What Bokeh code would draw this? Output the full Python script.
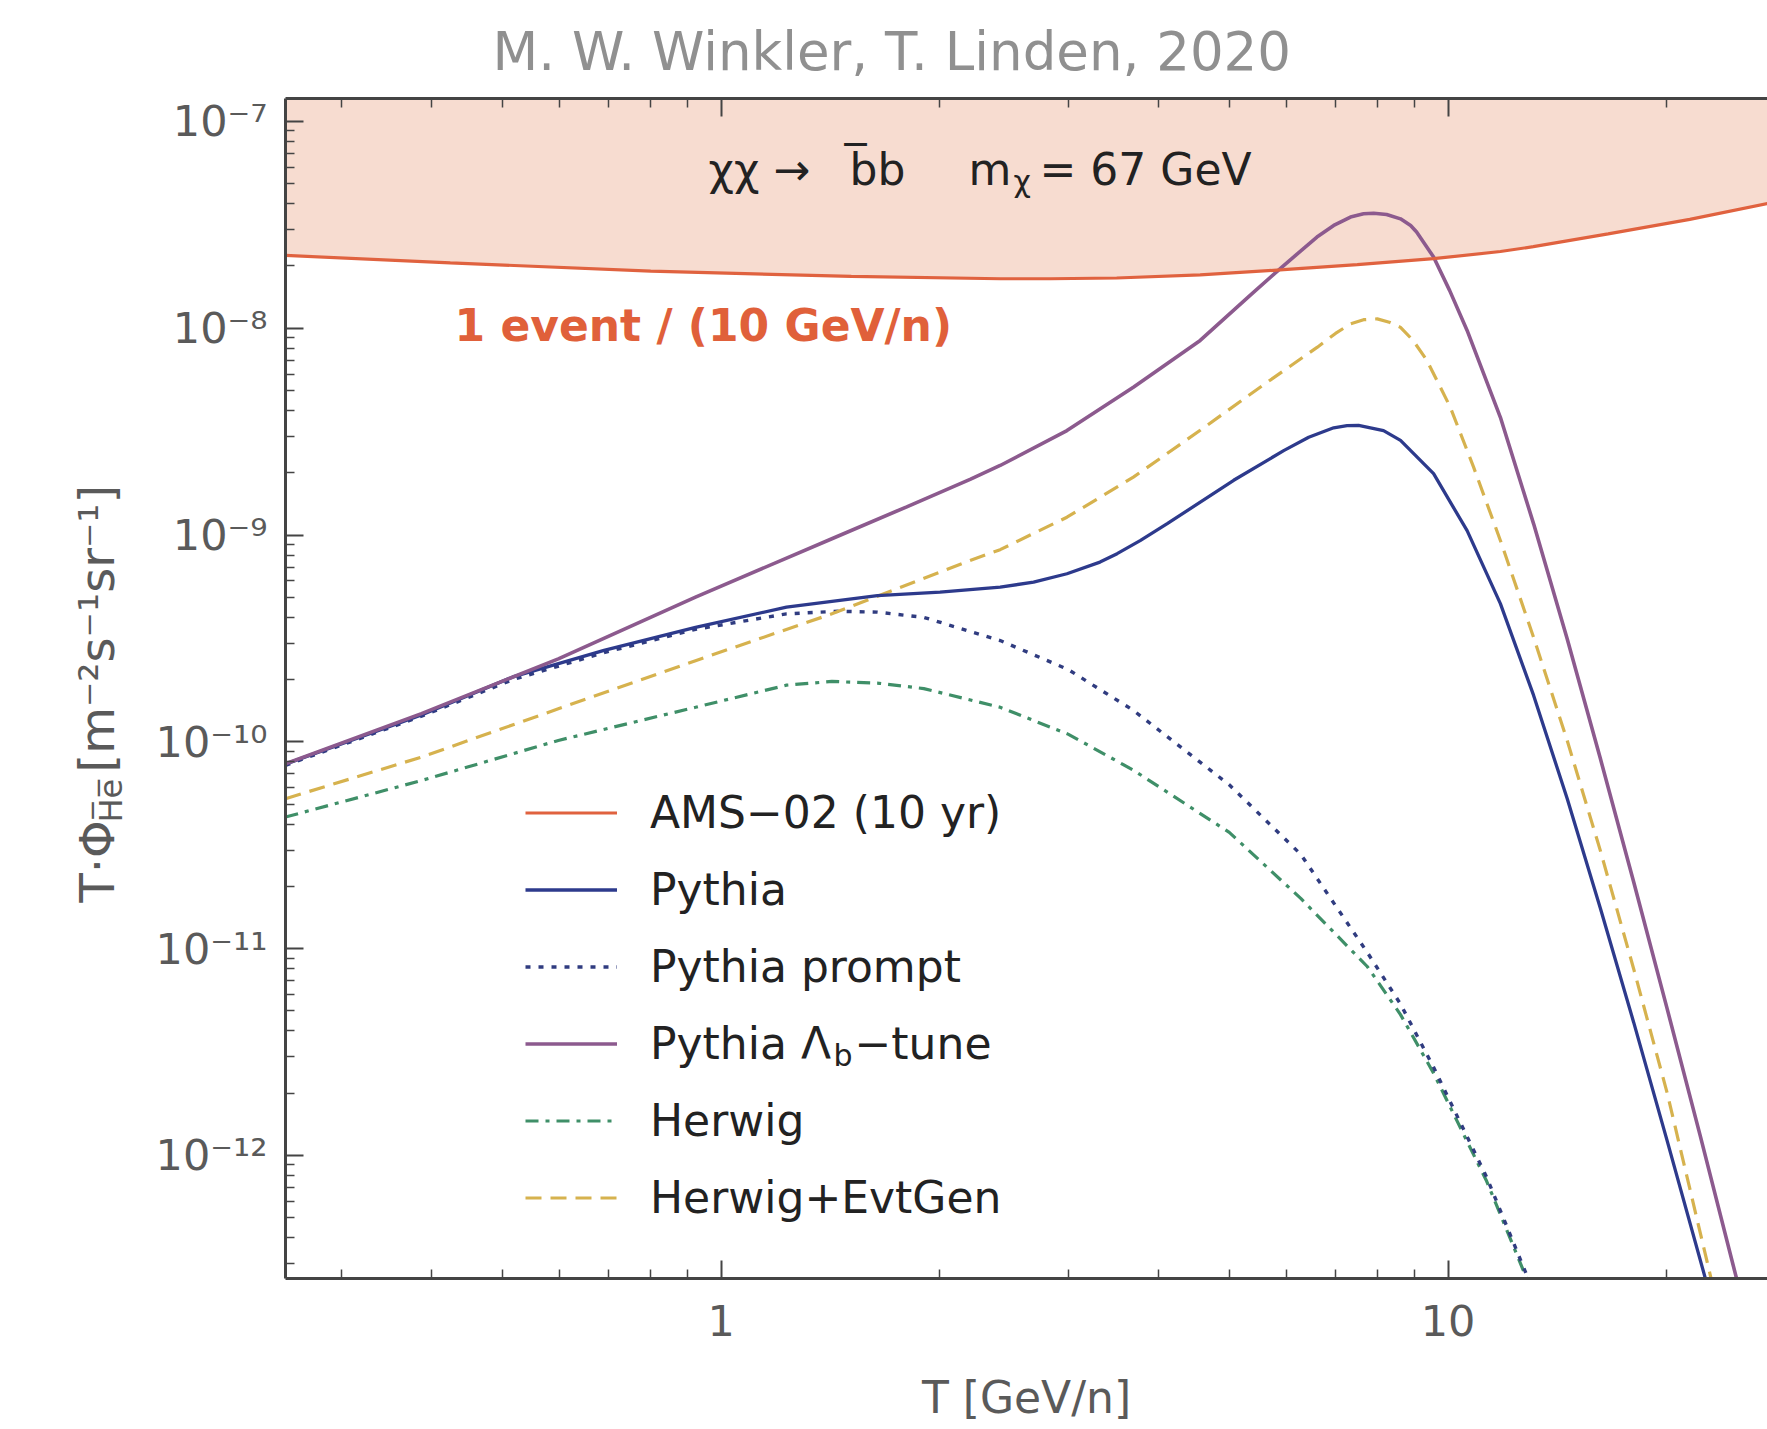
from math import pi
from bokeh.plotting import figure
from bokeh.layouts import row
from bokeh.models import (FixedTicker, Label, Legend, LegendItem, LogAxis,
                          Range1d, CustomJSTickFormatter, Title)
from bokeh.embed import file_html
from bokeh.resources import INLINE

FONT = "DejaVu Sans"

# ---------------- data ----------------
AMS_T = [0.2516, 0.424, 0.80, 1.51, 2.42, 2.84, 3.5, 4.56, 5.94, 7.5, 9.55,
         11.8, 13.1, 16.6, 21.5, 27.5]
AMS_F = [2.25e-8, 2.07e-8, 1.89e-8, 1.78e-8, 1.735e-8, 1.735e-8, 1.75e-8,
         1.81e-8, 1.92e-8, 2.03e-8, 2.17e-8, 2.35e-8, 2.48e-8, 2.86e-8,
         3.36e-8, 4.01e-8]

PYTHIA_T = [0.2516, 0.387, 0.517, 0.69, 0.922, 1.23, 1.64, 2.0, 2.42, 2.69,
            2.99, 3.32, 3.505, 3.77, 4.108, 5.07, 5.94, 6.43, 6.96, 7.26,
            7.53, 8.15, 8.60, 9.55, 10.62, 11.8, 13.11, 14.58, 16.2, 18.0,
            20.01, 22.59, 23.32]
PYTHIA_F = [7.8e-11, 1.35e-10, 2.06e-10, 2.77e-10, 3.58e-10, 4.48e-10,
            5.1e-10, 5.3e-10, 5.6e-10, 5.92e-10, 6.5e-10, 7.4e-10, 8.13e-10,
            9.4e-10, 1.135e-9, 1.84e-9, 2.56e-9, 2.97e-9, 3.30e-9, 3.38e-9,
            3.39e-9, 3.2e-9, 2.87e-9, 1.98e-9, 1.05e-9, 4.66e-10, 1.677e-10,
            5.32e-11, 1.565e-11, 4.4e-12, 1.18e-12, 2.54e-13, 1.63e-13]

PROMPT_T = [0.2516, 0.387, 0.517, 0.69, 0.922, 1.23, 1.45, 1.64, 1.90, 2.42,
            3.0, 3.69, 5.0, 6.27, 7.74, 8.6, 9.55, 11.3, 12.85, 13.4]
PROMPT_F = [7.7e-11, 1.33e-10, 2.0e-10, 2.7e-10, 3.5e-10, 4.16e-10, 4.28e-10,
            4.24e-10, 4.0e-10, 3.09e-10, 2.24e-10, 1.42e-10, 6.2e-11,
            2.86e-11, 9.6e-12, 5.4e-12, 2.67e-12, 7.85e-13, 2.6e-13, 1.78e-13]

LAMBDA_T = [0.2516, 0.387, 0.597, 0.922, 1.42, 1.8, 2.20, 2.42, 2.99, 3.69,
            4.56, 5.35, 5.94, 6.60, 6.96, 7.34, 7.65, 7.90, 8.23, 8.60, 8.88,
            9.05, 9.55, 10.05, 10.62, 11.8, 13.11, 14.58, 16.2, 18.0, 20.01,
            22.23, 24.85, 25.6]
LAMBDA_F = [7.83e-11, 1.37e-10, 2.52e-10, 5.01e-10, 9.6e-10, 1.37e-9,
            1.86e-9, 2.17e-9, 3.2e-9, 5.19e-9, 8.73e-9, 1.45e-8, 2.01e-8,
            2.76e-8, 3.14e-8, 3.45e-8, 3.58e-8, 3.6e-8, 3.55e-8, 3.38e-8,
            3.14e-8, 2.92e-8, 2.21e-8, 1.52e-8, 9.76e-9, 3.71e-9, 1.133e-9,
            3.15e-10, 8.28e-11, 2.10e-11, 5.13e-12, 1.24e-12, 2.66e-13,
            1.75e-13]

HERWIG_T = [0.2516, 0.387, 0.597, 0.922, 1.23, 1.42, 1.65, 1.90, 2.42, 3.0,
            3.69, 5.0, 6.27, 7.74, 8.6, 9.55, 11.3, 12.85, 13.4]
HERWIG_F = [4.33e-11, 6.5e-11, 1.016e-10, 1.47e-10, 1.88e-10, 1.96e-10,
            1.92e-10, 1.81e-10, 1.47e-10, 1.09e-10, 7.3e-11, 3.65e-11,
            1.75e-11, 8.2e-12, 4.8e-12, 2.5e-12, 7.5e-13, 2.5e-13, 1.72e-13]

EVTGEN_T = [0.2516, 0.387, 0.597, 0.922, 1.42, 2.20, 2.42, 2.99, 3.69, 4.56,
            5.64, 6.61, 7.0, 7.34, 7.65, 7.99, 8.3, 8.6, 8.95, 9.35, 10.07,
            10.84, 11.8, 13.11, 14.58, 16.2, 18.0, 20.01, 23.0, 23.6]
EVTGEN_F = [5.31e-11, 8.44e-11, 1.445e-10, 2.47e-10, 4.16e-10, 7.53e-10,
            8.5e-10, 1.22e-9, 1.905e-9, 3.21e-9, 5.49e-9, 8.1e-9, 9.44e-9,
            1.05e-8, 1.10e-8, 1.11e-8, 1.07e-8, 1.01e-8, 8.73e-9, 6.99e-9,
            4.15e-9, 2.13e-9, 9.42e-10, 3.2e-10, 1.016e-10, 2.97e-11,
            7.98e-12, 2.01e-12, 2.54e-13, 1.7e-13]

SERIES_LABELS = ["AMS\u221202 (10 yr)", "Pythia", "Pythia prompt",
                 "Pythia \u039b", "Herwig", "Herwig+EvtGen"]

X_TICKS = [1, 10]
X_TICK_LABELS = ["1", "10"]
Y_TICKS = [1e-12, 1e-11, 1e-10, 1e-9, 1e-8, 1e-7]
Y_TICK_LABELS = ["10\u207b\u00b9\u00b2", "10\u207b\u00b9\u00b9",
                 "10\u207b\u00b9\u2070", "10\u207b\u2079", "10\u207b\u2078",
                 "10\u207b\u2077"]

X_MIN, X_MAX = 0.2516, 27.5
Y_MIN, Y_MAX = 2.542e-13, 1.291e-7
BAND_TOP = 1e-6

AXIS_COLOR = "#444444"
LABEL_COLOR = "#5a5a5a"

H = 1429
FRAME_TOP, FRAME_BOTTOM = 98, 1278

# ---------------- left strip holding the y-axis label ----------------
# (its frame is aligned with the main frame by the row layout)
LEFT_W = 150
lf = figure(width=LEFT_W, height=H, x_range=Range1d(0, LEFT_W),
            y_range=Range1d(H - FRAME_BOTTOM, H - FRAME_TOP),
            x_axis_location=None, y_axis_location=None, output_backend="svg",
            toolbar_location=None, title=None, min_border=0)
lf.grid.visible = False
lf.outline_line_color = None
lf.background_fill_color = "white"
lf.border_fill_color = "white"


def ylab(text, x, fy, size):
    lf.add_layout(Label(x=x, y=H - fy, text=text, text_font=FONT,
                        text_font_size=size, text_color=LABEL_COLOR,
                        text_align="left", text_baseline="middle", angle=pi / 2))


ylab("T\u00b7\u03a6", 96, 902, "48px")
ylab("H\u0305e\u0305", 110, 822, "32px")
ylab("[m\u207b\u00b2s\u207b\u00b9sr\u207b\u00b9]", 96, 772, "48px")

# ---------------- main figure ----------------
title = Title(text="M. W. Winkler, T. Linden, 2020", align="left", offset=207,
              text_font=FONT, text_font_size="53px", text_color="#909090",
              text_font_style="normal", standoff=34)
p = figure(width=1767 - LEFT_W, height=H, x_axis_type="log", y_axis_type="log",
           x_range=Range1d(X_MIN, X_MAX), y_range=Range1d(Y_MIN, Y_MAX),
           output_backend="svg", toolbar_location=None, title=title,
           min_border_left=285 - LEFT_W, min_border_right=0,
           min_border_top=FRAME_TOP, min_border_bottom=H - FRAME_BOTTOM)
p.outline_line_color = None
p.grid.visible = False
p.background_fill_color = "white"
p.border_fill_color = "white"

fmt_code = """
let best = -1, bd = 1e9;
for (let i = 0; i < tv.length; i++) {
  const d = Math.abs(Math.log10(tv[i]) - Math.log10(tick));
  if (d < bd) { bd = d; best = i; }
}
return (best >= 0 && bd < 1e-6) ? tl[best] : "";
"""

x_minor = [m * 10.0 ** e for e in (-1, 0, 1) for m in range(2, 10)]
y_minor = [m * 10.0 ** e for e in range(-14, -6) for m in range(2, 10)]


def style_axis(ax):
    ax.axis_line_color = AXIS_COLOR
    ax.axis_line_width = 3
    ax.major_tick_in = 18
    ax.major_tick_out = 0
    ax.minor_tick_in = 9
    ax.minor_tick_out = 0
    ax.major_tick_line_color = AXIS_COLOR
    ax.major_tick_line_width = 2
    ax.minor_tick_line_color = AXIS_COLOR
    ax.minor_tick_line_width = 1.5
    ax.major_label_text_font = FONT
    ax.major_label_text_font_size = "43px"
    ax.major_label_text_color = LABEL_COLOR


xa = p.xaxis[0]
xa.ticker = FixedTicker(ticks=X_TICKS, minor_ticks=x_minor)
xa.formatter = CustomJSTickFormatter(args=dict(tv=X_TICKS, tl=X_TICK_LABELS), code=fmt_code)
style_axis(xa)
xa.major_label_standoff = 26
xa.axis_label = "T [GeV/n]"
xa.axis_label_text_font = FONT
xa.axis_label_text_font_size = "44px"
xa.axis_label_text_font_style = "normal"
xa.axis_label_text_color = LABEL_COLOR
xa.axis_label_standoff = 33

ya = p.yaxis[0]
ya.ticker = FixedTicker(ticks=Y_TICKS, minor_ticks=y_minor)
ya.formatter = CustomJSTickFormatter(args=dict(tv=Y_TICKS, tl=Y_TICK_LABELS), code=fmt_code)
style_axis(ya)
ya.major_label_standoff = 18

top = LogAxis(ticker=FixedTicker(ticks=X_TICKS, minor_ticks=x_minor),
              formatter=CustomJSTickFormatter(code="return '';"))
style_axis(top)
top.major_label_text_font_size = "0px"
top.major_label_standoff = 0
p.add_layout(top, "above")

# ---------------- glyphs ----------------
p.varea(x=AMS_T, y1=AMS_F, y2=[BAND_TOP] * len(AMS_T),
        fill_color="#f7dcd0", fill_alpha=1.0)

AMS_COLOR = "#e0623f"
r_herwig = p.line(HERWIG_T, HERWIG_F, line_color="#3f8f68", line_width=3.2,
                  line_dash="13 7 4 7")
r_prompt = p.line(PROMPT_T, PROMPT_F, line_color="#303c80", line_width=3.4,
                  line_dash="5 8")
r_evt = p.line(EVTGEN_T, EVTGEN_F, line_color="#d6b24e", line_width=3.2,
               line_dash="16 9")
r_py = p.line(PYTHIA_T, PYTHIA_F, line_color="#2d3a8c", line_width=3.3)
r_lam = p.line(LAMBDA_T, LAMBDA_F, line_color="#8c5a8e", line_width=3.6)
r_ams = p.line(AMS_T, AMS_F, line_color=AMS_COLOR, line_width=3.2)

renderers = [r_ams, r_py, r_prompt, r_lam, r_herwig, r_evt]
legend = Legend(items=[LegendItem(label=l, renderers=[r])
                       for l, r in zip(SERIES_LABELS, renderers)],
                location=(240, 55))
legend.label_text_font = FONT
legend.label_text_font_size = "44px"
legend.label_text_color = "#222222"
legend.glyph_width = 92
legend.glyph_height = 51
legend.label_height = 51
legend.label_standoff = 33
legend.spacing = 26
legend.padding = 0
legend.margin = 0
legend.border_line_color = None
legend.background_fill_alpha = 0
p.add_layout(legend)


# ---------------- texts inside the frame ----------------
def lab(text, x, y, size, color="#222222", align="left", style="normal"):
    p.add_layout(Label(x=x, y=y, x_units="screen", y_units="screen", text=text,
                       text_font=FONT, text_font_size=size, text_color=color,
                       text_align=align, text_baseline="middle",
                       text_font_style=style))


# subscript and rest of the fourth legend entry (Pythia Λb−tune)
lab("b", 548, 223, "30px")
lab("\u2212tune", 569, 235, "44px")
# process annotation
lab("\u03c7\u03c7 \u2192", 423, 1109, "44px")
lab("b\u0305b", 564, 1109, "44px")
lab("m", 683, 1109, "44px")
lab("\u03c7", 728, 1097, "30px")
lab("= 67 GeV", 754, 1109, "44px")
# AMS annotation
lab("1 event / (10 GeV/n)", 169, 953, "44px", color="#e0603a", style="bold")

layout = row(lf, p, spacing=0)
open("out.html", "w").write(file_html(layout, INLINE))
